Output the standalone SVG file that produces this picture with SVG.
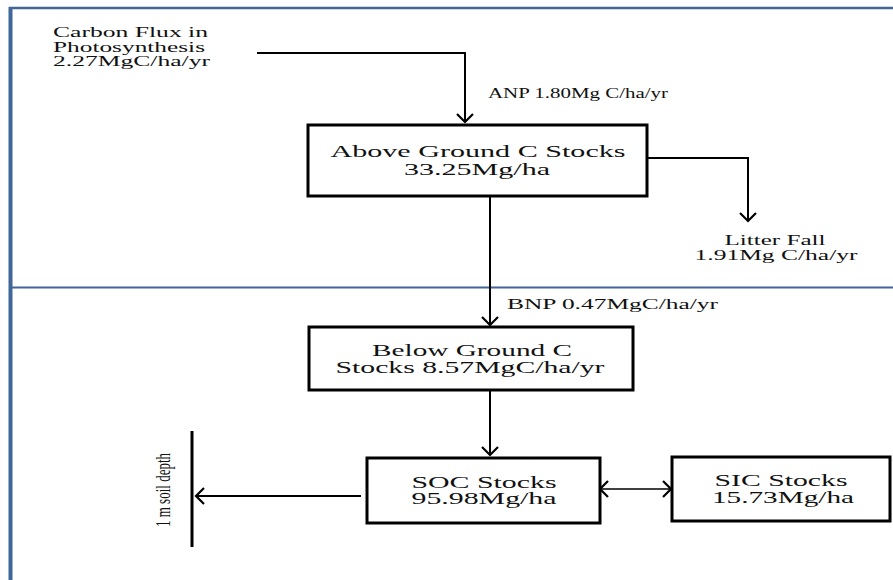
<svg xmlns="http://www.w3.org/2000/svg" width="893" height="580" viewBox="0 0 893 580">
<defs>
<marker id="arr" markerUnits="userSpaceOnUse" markerWidth="20" markerHeight="20" refX="10" refY="10" orient="auto-start-reverse" viewBox="0 0 20 20">
<path d="M2,2 L10,10 L2,18" fill="none" stroke="#000" stroke-width="2.2"/>
</marker>
<style>
text{font-family:"Liberation Serif","Times New Roman",serif;fill:#111;}
.t{font-size:14px;}
.b{font-size:16px;text-anchor:middle;}
.box{fill:#fff;stroke:#000;stroke-width:3;}
.c{fill:none;stroke:#000;stroke-width:2;}
.frame{stroke:#41679a;fill:none;}
</style>
</defs>
<rect width="893" height="580" fill="#fff"/>
<g id="frame">
<line class="frame" x1="9" y1="8" x2="893" y2="8" stroke-width="2.5"/>
<line class="frame" x1="10.5" y1="7" x2="10.5" y2="580" stroke-width="4"/>
<line class="frame" x1="9" y1="287.5" x2="893" y2="287.5" stroke-width="2"/>
</g>
<g id="connectors">
<path class="c" d="M257,53 H465 V122" marker-end="url(#arr)"/>
<path class="c" d="M647,158 H748 V221" marker-end="url(#arr)"/>
<path class="c" d="M490,196 V325" marker-end="url(#arr)"/>
<path class="c" d="M490,390 V455" marker-end="url(#arr)"/>
<path class="c" d="M361,496 H196" marker-end="url(#arr)"/>
<path class="c" d="M600,489 H671" marker-start="url(#arr)" marker-end="url(#arr)" style="stroke-width:1.5"/>
<line x1="192" y1="431" x2="192" y2="547" stroke="#000" stroke-width="3"/>
</g>
<g id="photosynthesis">
<text class="t" x="53" y="37" textLength="155" lengthAdjust="spacingAndGlyphs">Carbon Flux in</text>
<text class="t" x="53" y="52" textLength="152" lengthAdjust="spacingAndGlyphs">Photosynthesis</text>
<text class="t" x="53" y="66" textLength="157" lengthAdjust="spacingAndGlyphs">2.27MgC/ha/yr</text>
</g>
<g id="anp">
<text class="t" x="488" y="98" textLength="180" lengthAdjust="spacingAndGlyphs">ANP 1.80Mg C/ha/yr</text>
</g>
<g id="above">
<rect class="box" x="308" y="125" width="339" height="71"/>
<text class="b" x="478" y="157" textLength="295" lengthAdjust="spacingAndGlyphs">Above Ground C Stocks</text>
<text class="b" x="477" y="175" textLength="146" lengthAdjust="spacingAndGlyphs">33.25Mg/ha</text>
</g>
<g id="litter">
<text class="t" x="775" y="245" text-anchor="middle" textLength="101" lengthAdjust="spacingAndGlyphs">Litter Fall</text>
<text class="t" x="776" y="260" text-anchor="middle" textLength="163" lengthAdjust="spacingAndGlyphs">1.91Mg C/ha/yr</text>
</g>
<g id="bnp">
<text class="t" x="507" y="309" textLength="211" lengthAdjust="spacingAndGlyphs">BNP 0.47MgC/ha/yr</text>
</g>
<g id="below">
<rect class="box" x="309" y="327" width="324" height="63"/>
<text class="b" x="472" y="356" textLength="200" lengthAdjust="spacingAndGlyphs">Below Ground C</text>
<text class="b" x="470" y="373" textLength="269" lengthAdjust="spacingAndGlyphs">Stocks 8.57MgC/ha/yr</text>
</g>
<g id="soc">
<rect class="box" x="367" y="458" width="233" height="65"/>
<text class="b" x="484" y="488" textLength="145" lengthAdjust="spacingAndGlyphs">SOC Stocks</text>
<text class="b" x="484" y="504" textLength="145" lengthAdjust="spacingAndGlyphs">95.98Mg/ha</text>
</g>
<g id="sic">
<rect class="box" x="672" y="457" width="218" height="64"/>
<text class="b" x="781" y="486" textLength="133" lengthAdjust="spacingAndGlyphs">SIC Stocks</text>
<text class="b" x="783" y="503" textLength="142" lengthAdjust="spacingAndGlyphs">15.73Mg/ha</text>
</g>
<g id="depth">
<text transform="translate(170,490) rotate(-90) scale(0.65,1)" x="0" y="0" text-anchor="middle" style="font-size:20px">1 m soil depth</text>
</g>
</svg>
